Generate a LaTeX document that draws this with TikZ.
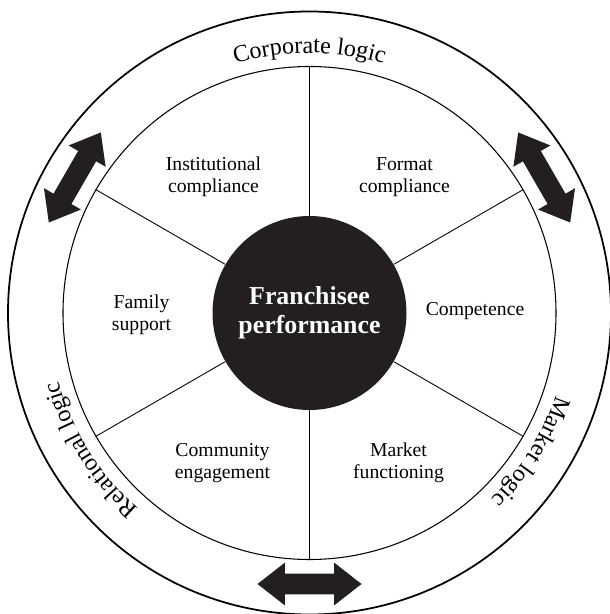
\documentclass[tikz,border=0pt]{standalone}
\usepackage{fontspec}
\setmainfont{Liberation Serif}
\usetikzlibrary{shapes.arrows,decorations.text}
\definecolor{inkblack}{HTML}{231F20}
\tikzset{
    factor/.style={align=center, font=\fontsize{11.2pt}{12.8pt}\selectfont},
    tensionarrow/.style={double arrow, fill=inkblack, minimum height=2.08cm,
        inner xsep=0pt, inner ysep=0.2cm, double arrow head extend=0.22cm,
        double arrow tip angle=76},
    logic/.style={decorate, decoration={text along path, text align=center}}
}

\begin{document}
\begin{tikzpicture}
        \useasboundingbox (-6.19,-6.02) rectangle (5.99,6.26);
        \node[draw, circle, line width=1pt, minimum size=12.06cm, inner sep=0pt] (Outer) at (0,0) {};
        \node[draw, circle, line width=0.6pt, minimum size=9.86cm, inner sep=0pt] (Ring) at (0,0) {};
        \node[circle, fill=inkblack, text=white, align=center, minimum size=3.88cm, inner sep=0pt,
            font=\fontsize{14.7pt}{16.5pt}\selectfont\bfseries] (Performance) at (0,0) {
            Franchisee\\performance
        };
        % spokes
        \draw[line width=0.5pt] (Performance.90) -- (Ring.90);
        \draw[line width=0.5pt] (Performance.30) -- (Ring.30);
        \draw[line width=0.5pt] (Performance.-30) -- (Ring.-30);
        \draw[line width=0.5pt] (Performance.-90) -- (Ring.-90);
        \draw[line width=0.5pt] (Performance.210) -- (Ring.210);
        \draw[line width=0.5pt] (Performance.150) -- (Ring.150);
        % sectors
        \node[factor] (Institutional) at (-1.92,2.72) {
            Institutional\\compliance
        };
        \node[factor] (Format) at (1.9,2.72) {
            Format\\compliance
        };
        \node[factor] (Competence) at (3.36,0.03) {
            Competence
        };
        \node[factor] (Family) at (-3.36,-0.04) {
            Family\\support
        };
        \node[factor] (Community) at (-1.74,-3.0) {
            Community\\engagement
        };
        \node[factor] (Market) at (1.78,-3.0) {
            Market\\functioning
        };
        % logics on the ring
        \path[logic, decoration={text={|\fontsize{13.7pt}{16pt}\selectfont|Corporate logic}}]
            (120:5.2) arc[start angle=120, end angle=60, radius=5.2cm];
        \path[logic, decoration={text={|\fontsize{13.7pt}{16pt}\selectfont|Market logic}}]
            (-2:5.2) arc[start angle=-2, end angle=-62, radius=5.2cm];
        \path[logic, decoration={text={|\fontsize{13.7pt}{16pt}\selectfont|Relational logic}}]
            (242:5.2) arc[start angle=242, end angle=182, radius=5.2cm];
        % tensions
        \node[tensionarrow, rotate=60] (CorpRel) at (150:5.42) {};
        \node[tensionarrow, rotate=120] (CorpMarket) at (30:5.42) {};
        \node[tensionarrow] (MarketRel) at (270:5.42) {};
\end{tikzpicture}
\end{document}
